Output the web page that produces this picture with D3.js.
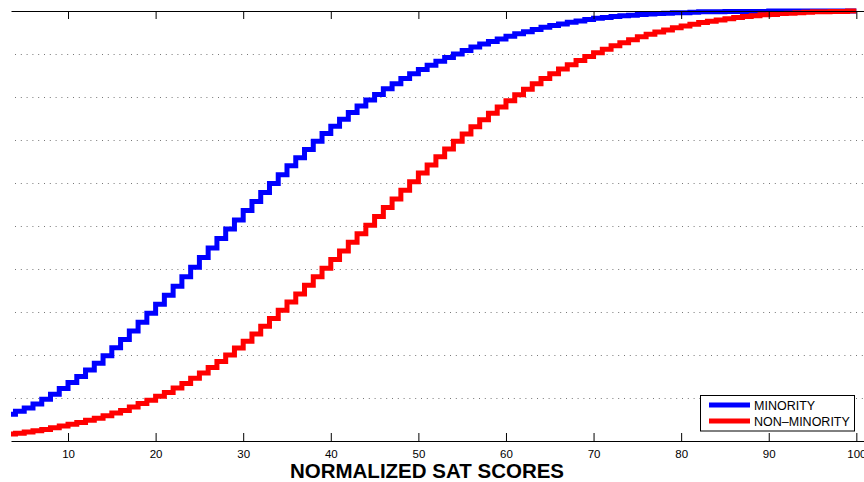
<!DOCTYPE html>
<html>
<head>
<meta charset="utf-8">
<script src="https://cdn.jsdelivr.net/npm/d3@7"></script>
<style>
  html, body { margin: 0; padding: 0; background: #fff; }
  svg { display: block; font-family: "Liberation Sans", Arial, Helvetica, sans-serif; }
</style>
</head>
<body>
<svg id="chart" width="864" height="482"></svg>
<script>
// Normalized SAT score (integer steps)
const scores = d3.range(3, 101);

// Cumulative share of students at or below each score
const minority = [
  0.062, 0.069, 0.077, 0.086, 0.097, 0.109, 0.122, 0.136, 0.150, 0.165,
  0.181, 0.198, 0.217, 0.236, 0.256, 0.276, 0.297, 0.318, 0.339, 0.360,
  0.382, 0.404, 0.427, 0.449, 0.471, 0.493, 0.514, 0.536, 0.557, 0.578,
  0.599, 0.619, 0.640, 0.659, 0.678, 0.697, 0.715, 0.732, 0.748, 0.764,
  0.779, 0.793, 0.806, 0.819, 0.831, 0.843, 0.854, 0.864, 0.874, 0.883,
  0.892, 0.900, 0.908, 0.916, 0.923, 0.929, 0.935, 0.941, 0.947, 0.952,
  0.957, 0.962, 0.966, 0.970, 0.974, 0.977, 0.980, 0.983, 0.985, 0.987,
  0.989, 0.990, 0.992, 0.993, 0.994, 0.995, 0.996, 0.996, 0.997, 0.998,
  0.998, 0.998, 0.999, 0.999, 0.999, 0.999, 0.999, 1.000, 1.000, 1.000,
  1.000, 1.000, 1.000, 1.000, 1.000, 1.000, 1.000, 1.000
];

const nonMinority = [
  0.016, 0.018, 0.021, 0.024, 0.027, 0.031, 0.035, 0.039, 0.043, 0.048,
  0.053, 0.059, 0.065, 0.071, 0.079, 0.087, 0.095, 0.104, 0.113, 0.123,
  0.134, 0.146, 0.158, 0.171, 0.185, 0.200, 0.216, 0.232, 0.249, 0.267,
  0.285, 0.304, 0.323, 0.342, 0.362, 0.382, 0.402, 0.422, 0.442, 0.462,
  0.482, 0.502, 0.522, 0.543, 0.563, 0.583, 0.603, 0.623, 0.642, 0.661,
  0.679, 0.697, 0.714, 0.731, 0.747, 0.762, 0.777, 0.791, 0.805, 0.818,
  0.831, 0.843, 0.854, 0.865, 0.875, 0.885, 0.894, 0.903, 0.911, 0.919,
  0.926, 0.933, 0.940, 0.946, 0.951, 0.956, 0.961, 0.965, 0.969, 0.973,
  0.976, 0.979, 0.982, 0.985, 0.987, 0.989, 0.991, 0.992, 0.994, 0.995,
  0.996, 0.997, 0.998, 0.998, 0.999, 0.999, 1.000, 1.000
];

const xTicks = [10, 20, 30, 40, 50, 60, 70, 80, 90, 100];
const yGrid = [0.1, 0.2, 0.3, 0.4, 0.5, 0.6, 0.7, 0.8, 0.9];
const seriesNames = ["MINORITY", "NON\u2013MINORITY"];
const seriesColors = ["#0000ff", "#ff0000"];
const xLabel = "NORMALIZED SAT SCORES";

const svg = d3.select("#chart");
const plotLeft = 11, plotTop = 11, plotBottom = 441;

const x = d3.scaleLinear().domain([3.49, 101.5]).range([plotLeft, plotLeft + (101.5 - 3.49) * 8.759]);
const y = d3.scaleLinear().domain([0, 1]).range([plotBottom, plotTop]);
const plotRight = x.range()[1];

svg.append("defs").append("clipPath").attr("id", "plotClip")
  .append("rect").attr("x", plotLeft).attr("y", 0).attr("width", plotRight - plotLeft).attr("height", 482);

// dotted horizontal grid
svg.append("g").selectAll("line").data(yGrid).join("line")
  .attr("x1", plotLeft + 4).attr("x2", plotRight)
  .attr("y1", d => Math.round(y(d)) + 0.5).attr("y2", d => Math.round(y(d)) + 0.5)
  .attr("stroke", "#777").attr("stroke-width", 1)
  .attr("stroke-dasharray", "1,4.8");

// step curves
const series = [minority, nonMinority];
const line = d3.line().curve(d3.curveStepAfter)
  .x((d, i) => x(scores[i])).y(d => y(d));

svg.append("g").attr("clip-path", "url(#plotClip)")
  .selectAll("path").data(series).join("path")
  .attr("d", d => line(d))
  .attr("fill", "none")
  .attr("stroke", (d, i) => seriesColors[i])
  .attr("stroke-width", 5)
  .attr("stroke-linejoin", "miter");

// bottom and top axes (ticks inward)
const bottomAxis = d3.axisBottom(x).tickValues(xTicks).tickSizeInner(-8).tickSizeOuter(0).tickPadding(12);
const gB = svg.append("g").attr("transform", `translate(0,${plotBottom})`).call(bottomAxis);
const topAxis = d3.axisTop(x).tickValues(xTicks).tickSizeInner(-8).tickSizeOuter(0).tickFormat("");
const gT = svg.append("g").attr("transform", `translate(0,${plotTop})`).call(topAxis);
[gB, gT].forEach(g => {
  g.select(".domain").attr("stroke", "#000").attr("stroke-width", 1.2);
  g.selectAll(".tick line").attr("stroke", "#000").attr("stroke-width", 1);
});
gB.selectAll(".tick text").attr("font-size", 11.5).attr("fill", "#000")
  .attr("font-family", "Liberation Sans, Arial, sans-serif")
  .attr("y", 0).attr("dy", 0)
  .attr("transform", `translate(0,${457.5 - plotBottom})`);

// axis title
svg.append("text")
  .attr("x", 427).attr("y", 477.5)
  .attr("text-anchor", "middle")
  .attr("font-size", 20.5).attr("font-weight", "bold")
  .text(xLabel);

// legend
const lg = svg.append("g");
lg.append("rect").attr("x", 700.5).attr("y", 395.5).attr("width", 154).attr("height", 35.5)
  .attr("fill", "#fff").attr("stroke", "#000").attr("stroke-width", 1);
seriesNames.forEach((name, i) => {
  const yy = 405 + i * 16;
  lg.append("line").attr("x1", 709).attr("x2", 750).attr("y1", yy).attr("y2", yy)
    .attr("stroke", seriesColors[i]).attr("stroke-width", 5);
  lg.append("text").attr("x", 754).attr("y", yy + 4.5)
    .attr("font-size", 12.5).attr("fill", "#000").text(name);
});
</script>
</body>
</html>
